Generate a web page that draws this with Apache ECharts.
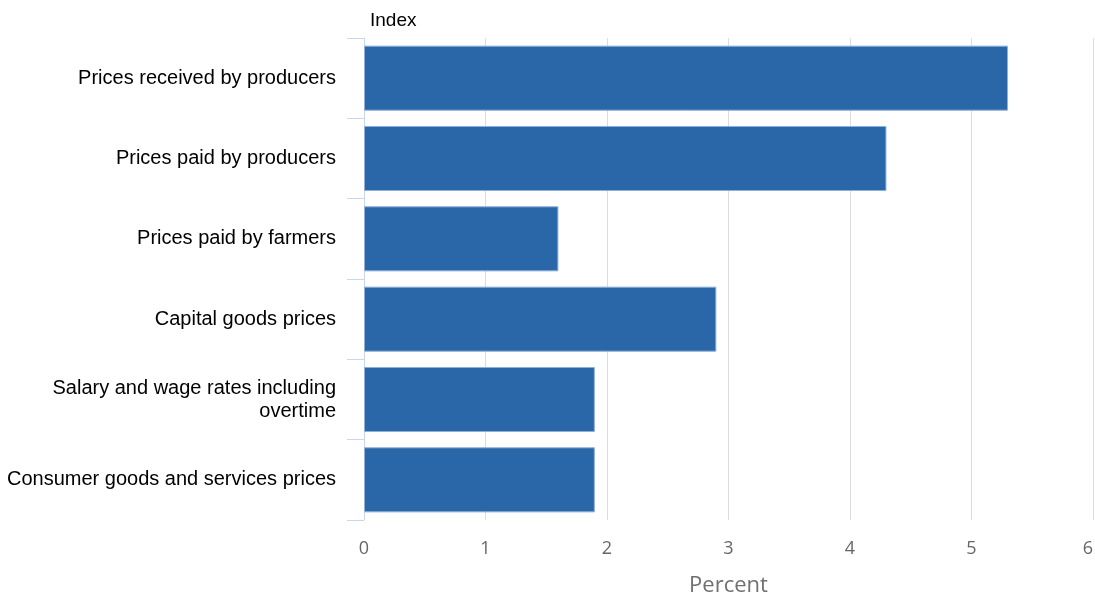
<!DOCTYPE html>
<html>
<head>
<meta charset="utf-8">
<script src="https://cdn.jsdelivr.net/npm/echarts@6/dist/echarts.min.js"></script>
<style>html,body{margin:0;padding:0;background:#fff}#c{width:1095px;height:598px}</style>
</head>
<body>
<div id="c"></div>
<script>
const categories = [
  "Prices received by producers",
  "Prices paid by producers",
  "Prices paid by farmers",
  "Capital goods prices",
  "Salary and wage rates including\novertime",
  "Consumer goods and services prices"
];
const values = [5.3, 4.3, 1.6, 2.9, 1.9, 1.9];
const xTicks = [0, 1, 2, 3, 4, 5, 6];

const chart = echarts.init(document.getElementById('c'), null, {renderer: 'canvas'});
chart.setOption({
  animation: false,
  grid: {left: 364, right: 2, top: 38, bottom: 78, containLabel: false, outerBoundsMode: 'none'},
  xAxis: {
    type: 'value',
    min: xTicks[0],
    max: xTicks[xTicks.length - 1],
    interval: 1,
    name: 'Percent',
    nameLocation: 'middle',
    nameGap: 55,
    nameTextStyle: {fontFamily: 'Open Sans', fontSize: 22, color: '#707070'},
    axisLine: {show: false},
    axisTick: {show: false},
    axisLabel: {fontFamily: 'Open Sans', fontSize: 18, color: '#666666', margin: 20, alignMaxLabel: 'right'},
    splitLine: {show: true, lineStyle: {color: '#dcdcdc', width: 1}}
  },
  yAxis: {
    type: 'category',
    data: categories,
    inverse: true,
    name: 'Index',
    nameLocation: 'start',
    nameGap: 8,
    nameTextStyle: {fontFamily: 'Liberation Sans', fontSize: 19, color: '#000', align: 'left', padding: [0, 0, 0, 6]},
    axisLine: {show: true, lineStyle: {color: '#ccd6eb', width: 1}},
    axisTick: {show: true, length: 17, lineStyle: {color: '#ccd6eb', width: 1}},
    axisLabel: {fontFamily: 'Liberation Sans', fontSize: 20, color: '#000', margin: 28, lineHeight: 23, align: 'right'},
    splitLine: {show: false}
  },
  series: [{
    type: 'bar',
    data: values,
    barCategoryGap: '19%',
    itemStyle: {color: '#2a67a8', borderColor: '#8fb0d8', borderWidth: 1}
  }]
});
</script>
</body>
</html>
